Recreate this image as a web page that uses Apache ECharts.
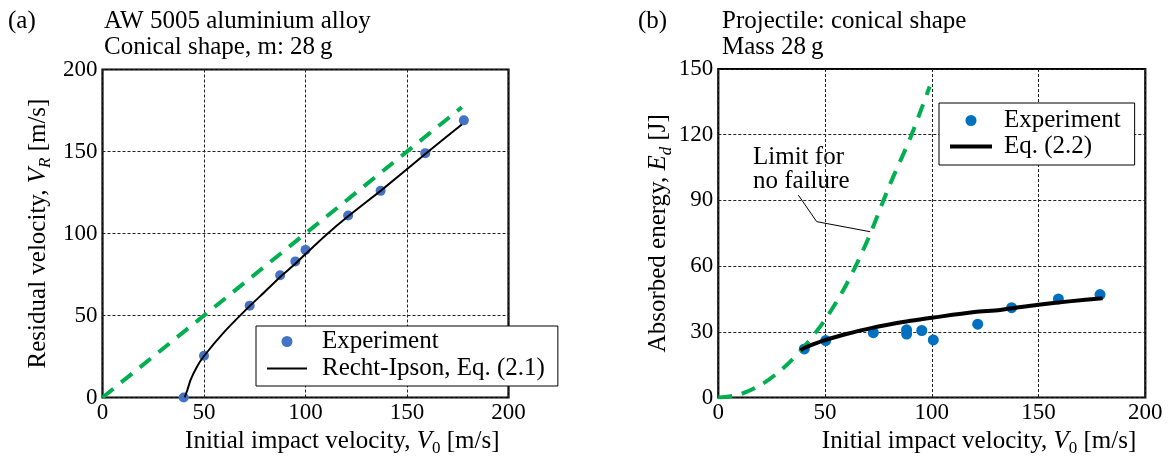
<!DOCTYPE html>
<html><head><meta charset="utf-8">
<script src="https://cdn.jsdelivr.net/npm/echarts@6/dist/echarts.min.js"></script>
<style>html,body{margin:0;padding:0;background:#fff}#c{width:1169px;height:458px}</style>
</head><body><div id="c"></div>
<script>
// ---------- DATA ----------
// Panel (a): residual velocity
const xTicksA = [0, 50, 100, 150, 200];
const yTicksA = [0, 50, 100, 150, 200];
const expA_V0 = [40, 50, 72.5, 87.5, 95, 100, 121, 137, 159, 178];
const expA_VR = [0, 25.5, 56, 74.5, 83, 90, 111, 126, 149, 169];
const fitA_V0 = [40.5, 41.8, 43.4, 46.4, 50, 60, 72.7, 80, 87.5, 95, 100, 110, 121, 137, 159, 177];
const fitA_VR = [0, 4.6, 10.7, 18.5, 25.3, 40, 56, 64.5, 73.5, 81.5, 87.5, 99, 110.5, 126, 148.5, 166.5];
const limA_V0 = [0, 177];
const limA_VR = [0, 177];

// Panel (b): absorbed energy
const xTicksB = [0, 50, 100, 150, 200];
const yTicksB = [0, 30, 60, 90, 120, 150];
const expB_V0 = [40.3, 50.3, 72.6, 88.2, 88.2, 95.3, 100.7, 121.5, 137.4, 159.3, 178.8];
const expB_Ed = [22.2, 26, 29.6, 30.9, 29.0, 30.6, 26.3, 33.5, 41.0, 45.0, 47.0];
const fitB_V0 = [38.5, 40, 45, 50, 60, 72.6, 80, 90, 100.7, 120, 132, 150, 180];
const fitB_Ed = [21.5, 22.5, 24.5, 26.2, 29, 31.9, 33.3, 35, 36.5, 39, 40, 42.4, 45.3];
const limB_V0 = [0, 10, 20, 30, 40, 50, 60, 70, 80, 90, 99];
const limB_Ed = [0, 1.4, 5.8, 13, 23, 35.5, 51.6, 72, 96.4, 118.7, 142];
const leaderB_V0 = [37.5, 46.1, 71.1];
const leaderB_Ed = [92.4, 80.3, 75.7];

// ---------- STYLE ----------
const FONT = '"Liberation Serif", "DejaVu Serif", serif';
const FS = 25;      // text size
const TFS = 23;     // tick label size
const zip = (a, b) => a.map((v, i) => [v, b[i]]);
const GREEN = '#00B050';

const richName = {
  n: { fontFamily: FONT, fontSize: FS, color: '#000', lineHeight: 26, verticalAlign: 'top' },
  i: { fontFamily: FONT, fontSize: FS, color: '#000', fontStyle: 'italic', lineHeight: 26, verticalAlign: 'top' },
  s: { fontFamily: FONT, fontSize: 17, color: '#000', lineHeight: 26, verticalAlign: 'top', padding: [12, 0, 0, 0] },
  si: { fontFamily: FONT, fontSize: 17, color: '#000', fontStyle: 'italic', lineHeight: 26, verticalAlign: 'top', padding: [12, 0, 0, 0] }
};

function xAxis(gi, ticks) {
  return {
    type: 'value', gridIndex: gi, min: ticks[0], max: ticks[ticks.length - 1],
    interval: ticks[1] - ticks[0],
    axisLine: { show: false }, axisTick: { show: false },
    axisLabel: { color: '#000', fontFamily: FONT, fontSize: TFS, margin: 4 },
    splitLine: { show: true, lineStyle: { color: '#222', width: 1, type: [3, 2] } },
    name: '{n|Initial impact velocity, }{i|V}{s|0}{n| [m/s]}',
    nameLocation: 'end', nameGap: -9,
    nameTextStyle: {
      color: '#000', fontFamily: FONT, fontSize: FS, align: 'right', verticalAlign: 'top',
      padding: [31, 0, 0, 0], rich: richName
    }
  };
}
function yAxis(gi, ticks, name, gap) {
  return {
    type: 'value', gridIndex: gi, min: ticks[0], max: ticks[ticks.length - 1],
    interval: ticks[1] - ticks[0],
    axisLine: { show: false }, axisTick: { show: false },
    axisLabel: { color: '#000', fontFamily: FONT, fontSize: TFS, margin: 5 },
    splitLine: { show: true, lineStyle: { color: '#222', width: 1, type: [3, 2] } },
    name: name, nameLocation: 'middle', nameGap: gap,
    nameTextStyle: { color: '#000', fontFamily: FONT, fontSize: FS, rich: richName }
  };
}

const chart = echarts.init(document.getElementById('c'), null, { renderer: 'canvas' });
chart.setOption({
  animation: false,
  backgroundColor: '#fff',
  grid: [
    { left: 102.5, top: 69.5, width: 406, height: 328, show: true, borderColor: '#000', borderWidth: 2.2, backgroundColor: 'transparent' },
    { left: 718.3, top: 69, width: 427, height: 328.5, show: true, borderColor: '#000', borderWidth: 2.2, backgroundColor: 'transparent' }
  ],
  xAxis: [xAxis(0, xTicksA), xAxis(1, xTicksB)],
  yAxis: [
    yAxis(0, yTicksA, '{n|Residual velocity, }{i|V}{si|R}{n| [m/s]}', 51),
    yAxis(1, yTicksB, '{n|Absorbed energy, }{i|E}{si|d}{n| [J]}', 44)
  ],
  legend: [
    {
      left: 256, top: 326, orient: 'vertical', padding: [3, 13, 5, 10], itemGap: 2,
      borderColor: '#000', borderWidth: 1, backgroundColor: '#fff',
      itemWidth: 40, itemHeight: 11,
      data: [{ name: 'Experiment a', icon: 'circle' }, { name: 'Recht-Ipson, Eq. (2.1)', lineStyle: { width: 2 } }],
      formatter: n => n.replace(/ [ab]$/, ''),
      textStyle: { color: '#000', fontFamily: FONT, fontSize: FS, padding: [0, 0, 0, 10] },
      selectedMode: false
    },
    {
      left: 939, top: 103, orient: 'vertical', padding: [5, 14, 6, 9], itemGap: 1,
      borderColor: '#000', borderWidth: 1, backgroundColor: '#fff',
      itemWidth: 42, itemHeight: 11,
      data: [{ name: 'Experiment b', icon: 'circle' }, { name: 'Eq. (2.2)', lineStyle: { width: 4 } }],
      formatter: n => n.replace(/ [ab]$/, ''),
      textStyle: { color: '#000', fontFamily: FONT, fontSize: FS, padding: [0, 0, 0, 7] },
      selectedMode: false
    }
  ],
  series: [
    { name: 'limA', type: 'line', xAxisIndex: 0, yAxisIndex: 0, symbol: 'none',
      data: zip(limA_V0, limA_VR), lineStyle: { color: GREEN, width: 4, type: [14, 10] } },
    { name: 'Recht-Ipson, Eq. (2.1)', type: 'line', xAxisIndex: 0, yAxisIndex: 0, symbol: 'none',
      data: zip(fitA_V0, fitA_VR), smooth: 0.15,
      lineStyle: { color: '#000', width: 2 }, itemStyle: { color: 'rgba(0,0,0,0)' } },
    { name: 'Experiment a', type: 'scatter', xAxisIndex: 0, yAxisIndex: 0, symbolSize: 10, clip: false,
      data: zip(expA_V0, expA_VR), itemStyle: { color: '#4472C4', opacity: 1 } },

    { name: 'limB', type: 'line', xAxisIndex: 1, yAxisIndex: 1, symbol: 'none',
      data: zip(limB_V0, limB_Ed), smooth: 0.3,
      lineStyle: { color: GREEN, width: 4, type: [14, 10] } },
    { name: 'leader', type: 'line', xAxisIndex: 1, yAxisIndex: 1, symbol: 'none',
      data: zip(leaderB_V0, leaderB_Ed), lineStyle: { color: '#000', width: 1 } },
    { name: 'Eq. (2.2)', type: 'line', xAxisIndex: 1, yAxisIndex: 1, symbol: 'none',
      data: zip(fitB_V0, fitB_Ed), smooth: 0.3,
      lineStyle: { color: '#000', width: 4 }, itemStyle: { color: 'rgba(0,0,0,0)' } },
    { name: 'Experiment b', type: 'scatter', xAxisIndex: 1, yAxisIndex: 1, symbolSize: 11, clip: false,
      data: zip(expB_V0, expB_Ed), itemStyle: { color: '#0070C0', opacity: 1 } }
  ],
  graphic: [
    { type: 'text', left: 8, top: 9, style: { text: '(a)', font: FS + 'px ' + FONT, fill: '#000' } },
    { type: 'text', left: 104, top: 9, style: { text: 'AW 5005 aluminium alloy', font: FS + 'px ' + FONT, fill: '#000' } },
    { type: 'text', left: 104, top: 35, style: { text: 'Conical shape, m: 28\u2009g', font: FS + 'px ' + FONT, fill: '#000' } },
    { type: 'text', left: 638, top: 9, style: { text: '(b)', font: FS + 'px ' + FONT, fill: '#000' } },
    { type: 'text', left: 722, top: 9, style: { text: 'Projectile: conical shape', font: FS + 'px ' + FONT, fill: '#000' } },
    { type: 'text', left: 722, top: 35, style: { text: 'Mass 28\u2009g', font: FS + 'px ' + FONT, fill: '#000' } },
    { type: 'text', left: 753, top: 145, style: { text: 'Limit for', font: FS + 'px ' + FONT, fill: '#000' } },
    { type: 'text', left: 753, top: 169, style: { text: 'no failure', font: FS + 'px ' + FONT, fill: '#000' } }
  ]
});
</script></body></html>
